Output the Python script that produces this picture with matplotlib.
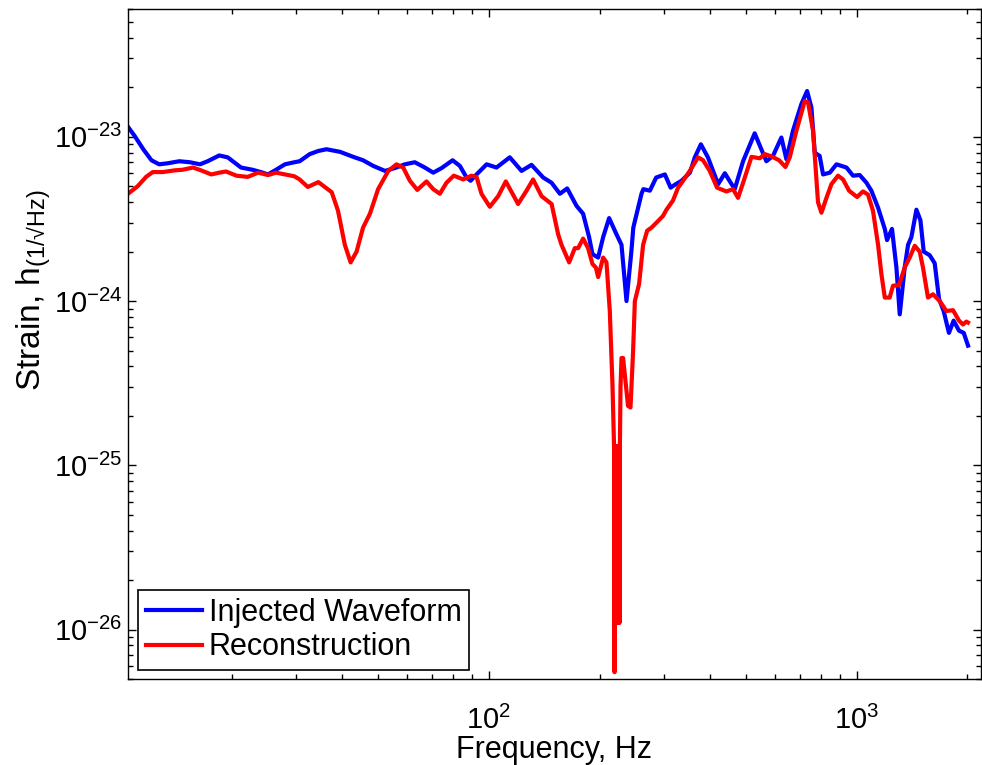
import matplotlib
matplotlib.use("Agg")
import matplotlib.pyplot as plt
from matplotlib.ticker import LogLocator, NullFormatter, FixedLocator

plt.rcParams['font.family'] = ['Liberation Sans', 'DejaVu Sans']
plt.rcParams['mathtext.fontset'] = 'custom'
plt.rcParams['mathtext.rm'] = 'Liberation Sans'
plt.rcParams['mathtext.it'] = 'Liberation Sans:italic'
plt.rcParams['mathtext.bf'] = 'Liberation Sans:bold'

# ---- data (frequency in Hz, strain in units of 1e-24 / sqrt(Hz)) ----
inj_freq = [10.45, 10.9, 11.5, 12.1, 12.7, 13.4, 14.4, 15.4, 16.4, 17.2,
            18.5, 19.5, 21.2, 22.8, 24.0, 25.1, 26.4, 27.9, 29.6, 30.6,
            32.6, 34.4, 36.2, 39.4, 42.8, 45.5, 48.5, 52.2, 55.5, 59.1,
            62.9, 67.0, 70.6, 74.4, 79.7, 83.4, 87.0, 89.2, 92.6, 98.6,
            104.9, 114.0, 122.7, 130.6, 140.5, 148.1, 156.0, 163.3, 173.1, 180.4,
            187.3, 191.3, 198.2, 204.5, 212.3, 222.3, 229.4, 236.7, 244, 247,
            260, 263, 274, 285, 301, 312, 320, 334, 352, 363,
            377, 394, 420, 438, 466, 491, 528, 568, 592, 624,
            644, 671, 707, 733, 753, 769, 793, 810, 845, 881,
            938, 977, 1019, 1063, 1096, 1143, 1192, 1209, 1247, 1282,
            1309, 1350, 1379, 1408, 1453, 1490, 1521, 1579, 1629, 1674,
            1723, 1781, 1834, 1897, 1954, 2007]
inj_strain = [11.5, 10.1, 8.4, 7.2, 6.8, 6.9, 7.1, 7.0, 6.8, 7.1,
              7.7, 7.5, 6.5, 6.3, 6.1, 5.9, 6.3, 6.8, 7.0, 7.1,
              7.85, 8.2, 8.4, 8.1, 7.55, 7.2, 6.65, 6.2, 6.45, 6.8,
              7.0, 6.5, 6.05, 6.45, 7.2, 6.65, 5.65, 5.4, 5.9, 6.8,
              6.5, 7.5, 6.2, 6.75, 5.65, 5.25, 4.5, 4.85, 3.8, 3.4,
              2.45, 1.93, 1.84, 2.45, 3.2, 2.55, 2.2, 1.0, 2.0, 2.8,
              4.5, 4.8, 4.7, 5.65, 5.9, 4.9, 5.1, 5.4, 6.05, 7.5,
              9.0, 7.5, 5.15, 6.0, 4.8, 7.1, 10.5, 7.1, 7.65, 9.9,
              7.3, 10.9, 15.8, 19.0, 15.1, 8.0, 7.65, 5.9, 6.05, 6.8,
              6.5, 5.8, 5.85, 5.25, 4.7, 3.7, 2.75, 2.35, 2.75, 1.6,
              0.83, 1.6, 2.2, 2.45, 3.6, 3.1, 2.0, 1.9, 1.7, 1.03,
              0.87, 0.64, 0.76, 0.66, 0.64, 0.535]

rec_freq = [10.45, 11.1, 11.7, 12.2, 13.0, 14.0, 14.7, 15.7, 16.5, 17.6,
            18.5, 19.3, 20.6, 22.1, 23.6, 25.1, 26.4, 27.9, 29.6, 30.6,
            32.2, 34.4, 37.4, 38.9, 40.6, 42.1, 43.7, 45.5, 47.5, 50.0,
            53.3, 56.1, 58.5, 61.0, 63.9, 67.7, 70.6, 73.6, 76.7, 80.3,
            85.2, 89.7, 92.6, 95.5, 100.6, 106.0, 111.2, 120.1, 126.6, 131.9,
            139.1, 148.1, 154.3, 157.6, 165.3, 171.3, 174.9, 180.4, 186.1, 191.3,
            195.4, 198.2, 204.5, 208.8, 213.2, 216.8, 219.1, 219.6, 220.1, 220.6,
            221.1, 221.6, 222.1, 222.6, 223.1, 223.6, 224.1, 224.6, 225.1, 225.6,
            226.1, 226.6, 227.1, 228.0, 229.4, 231.7, 239.0, 242.7, 246.7, 249.4,
            256.1, 262.6, 269.3, 276.8, 285.5, 297.5, 304.0, 316.7, 326.9, 337.3,
            351.7, 370.5, 382.2, 398.6, 417.2, 442.4, 461.2, 475.8, 493.1, 517.5,
            545, 562.3, 586.4, 615.1, 640.1, 657.6, 685.7, 722.2, 737.3, 760.7,
            784.8, 801.8, 827.4, 853.6, 889.5, 917.9, 953, 1002, 1040, 1073,
            1107, 1143, 1167, 1192, 1229, 1255, 1303, 1350, 1393, 1438,
            1483, 1514, 1562, 1612, 1681, 1753, 1827, 1897, 1945, 1987,
            2007]
rec_strain = [4.5, 5.0, 5.7, 6.1, 6.1, 6.25, 6.3, 6.5, 6.25, 5.9,
              6.05, 6.15, 5.8, 5.7, 6.05, 5.85, 6.05, 5.9, 5.75, 5.5,
              4.95, 5.3, 4.6, 3.55, 2.2, 1.72, 2.0, 2.8, 3.4, 4.8,
              6.2, 6.8, 6.5, 5.4, 4.75, 5.35, 4.8, 4.5, 5.25, 5.8,
              5.5, 5.8, 5.7, 4.5, 3.75, 4.35, 5.35, 3.9, 4.7, 5.5,
              4.35, 3.9, 2.55, 2.2, 1.72, 2.1, 2.1, 2.4, 2.1, 1.68,
              1.6, 1.4, 1.84, 1.72, 0.87, 0.31, 0.123, 0.0055, 0.13, 0.011,
              0.13, 0.011, 0.13, 0.011, 0.13, 0.011, 0.13, 0.011, 0.13, 0.011,
              0.13, 0.011, 0.13, 0.3, 0.45, 0.45, 0.23, 0.225, 0.5, 1.0,
              1.27, 2.2, 2.68, 2.8, 3.0, 3.3, 3.6, 4.1, 4.9, 5.4,
              6.2, 7.5, 7.2, 6.2, 4.9, 4.65, 4.8, 4.25, 5.4, 7.55,
              7.4, 7.85, 7.6, 7.2, 6.55, 7.5, 10.9, 16.5, 16.2, 10.9,
              4.0, 3.45, 4.25, 5.15, 5.8, 5.5, 4.7, 4.3, 4.65, 4.45,
              3.55, 2.2, 1.46, 1.05, 1.05, 1.24, 1.25, 1.6, 1.84, 2.17,
              2.0, 1.6, 1.05, 1.1, 1.0, 0.87, 0.88, 0.76, 0.72, 0.75,
              0.74]
strain_unit = 1e-24

series_labels = ["Injected Waveform", "Reconstruction"]
x_label = "Frequency, Hz"
y_label = r"Strain, h$_{\mathregular{(1/√Hz)}}$"
x_limits = (10.45, 2170)
y_limits = (5e-27, 6e-23)
x_major = [1e2, 1e3]
y_major = [1e-26, 1e-25, 1e-24, 1e-23]

# ---- figure ----
W, H = 982, 765
fig = plt.figure(figsize=(W / 100, H / 100), dpi=100)
ax = fig.add_axes([128 / W, 1 - 679 / H, 852.5 / W, 670 / H])

ax.plot(inj_freq, [v * strain_unit for v in inj_strain], color=(0, 0, 1),
        lw=3.0, label=series_labels[0], solid_joinstyle='round')
ax.plot(rec_freq, [v * strain_unit for v in rec_strain], color=(1, 0, 0),
        lw=3.0, label=series_labels[1], solid_joinstyle='round')

ax.set_xscale('log')
ax.set_yscale('log')
ax.set_xlim(*x_limits)
ax.set_ylim(*y_limits)

ax.xaxis.set_major_locator(FixedLocator(x_major))
ax.yaxis.set_major_locator(FixedLocator(y_major))
ax.xaxis.set_minor_locator(LogLocator(base=10, subs=range(2, 10), numticks=50))
ax.yaxis.set_minor_locator(LogLocator(base=10, subs=range(2, 10), numticks=50))
ax.xaxis.set_minor_formatter(NullFormatter())
ax.yaxis.set_minor_formatter(NullFormatter())

ax.tick_params(which='both', direction='in', top=True, right=True, width=1.0)
ax.tick_params(which='major', length=6, labelsize=21)
ax.tick_params(axis='x', which='major', pad=19)
ax.tick_params(axis='y', which='major', pad=4)
ax.tick_params(which='minor', length=3.5)
for s in ax.spines.values():
    s.set_linewidth(1.0)

ax.set_xlabel(x_label, fontsize=22, labelpad=0)
ax.set_ylabel(y_label, fontsize=24)
ax.yaxis.set_label_coords(-0.088, 0.581)

leg = ax.legend(loc='lower left', bbox_to_anchor=(0.0117, 0.0134),
                borderaxespad=0, fancybox=False, edgecolor='black',
                framealpha=1, fontsize=22, handlelength=1.85,
                handletextpad=0.22, borderpad=0.25, labelspacing=0.15)
leg.get_frame().set_linewidth(1.2)

fig.savefig("out.png", dpi=100)
